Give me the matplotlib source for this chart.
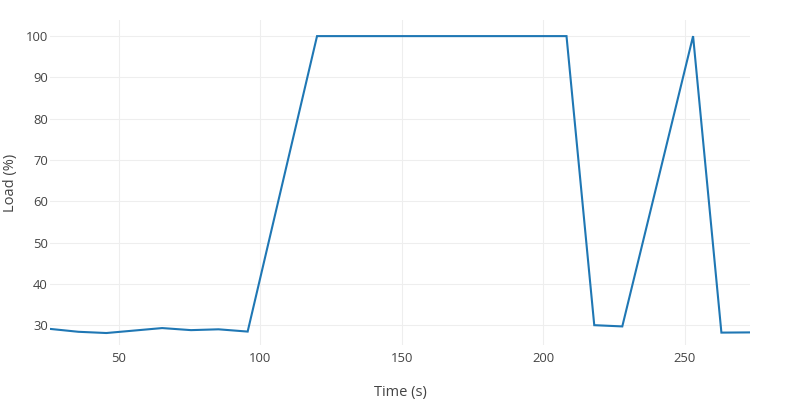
import matplotlib
matplotlib.use("Agg")
import matplotlib.pyplot as plt

# load trace
time_s = [25.8, 35.8, 45.7, 65.4, 75.6, 85.3, 95.6, 120.1, 208.2, 218.0, 227.9, 252.9, 262.9, 273.0]
load_pct = [29.1, 28.4, 28.1, 29.3, 28.8, 29.0, 28.45, 100, 100, 30.0, 29.7, 100, 28.2, 28.25]

x_ticks = [50, 100, 150, 200, 250]
y_ticks = [30, 40, 50, 60, 70, 80, 90, 100]

plt.rcParams['font.family'] = ['Open Sans', 'DejaVu Sans']

fig = plt.figure(figsize=(8, 4), dpi=100)
ax = fig.add_axes([0.0625, 0.1375, 0.875, 0.8125])

ax.plot(time_s, load_pct, color='#1f77b4', linewidth=1.5, solid_joinstyle='miter')

ax.set_xlim(min(time_s), max(time_s))
ax.set_ylim(25.2, 103.9)
ax.set_xticks(x_ticks)
ax.set_yticks(y_ticks)
ax.grid(True, color='#eeeeee', linewidth=0.8)
ax.set_axisbelow(True)
for s in ax.spines.values():
    s.set_visible(False)
ax.tick_params(length=0, labelsize=9.4, labelcolor='#444444')
ax.tick_params(axis='x', pad=5)
ax.tick_params(axis='y', pad=1.5)

ax.set_xlabel('Time (s)', fontsize=10.5, color='#444444', va='center')
ax.set_ylabel('Load (%)', fontsize=10.5, color='#444444', va='center')
# centre of each axis title, in axes fractions
ax.xaxis.set_label_coords(0.5, -0.145)
ax.yaxis.set_label_coords(-0.057, 0.5)

fig.savefig('out.png')
